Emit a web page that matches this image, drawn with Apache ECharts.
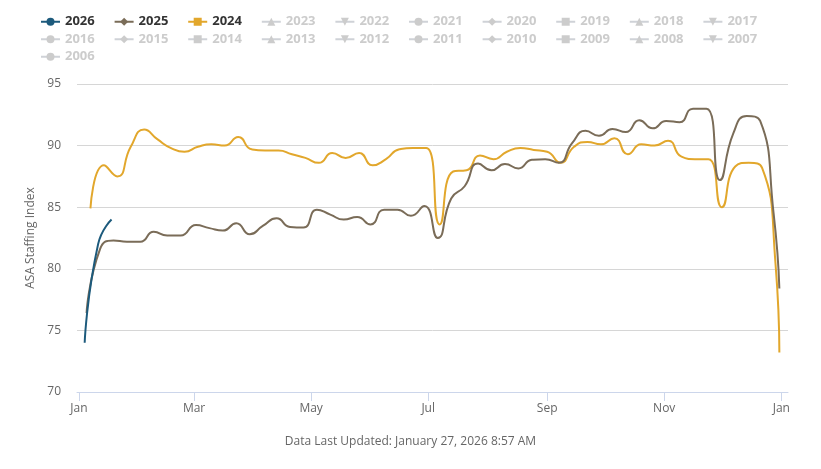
<!DOCTYPE html>
<html><head><meta charset="utf-8">
<script src="https://cdn.jsdelivr.net/npm/echarts@6/dist/echarts.min.js"></script>
<style>html,body{margin:0;padding:0;background:#fff}#c{width:821px;height:469px}</style>
</head><body><div id="c"></div>
<script>
// ---- data ----
const dates2026 = ['2026-01-04','2026-01-11','2026-01-18'];
const values2026 = [74.0, 82.0, 84.0];

const dates2025 = ['2025-01-05','2025-01-12','2025-01-19','2025-01-26','2025-02-02','2025-02-09','2025-02-16','2025-02-23',
  '2025-03-02','2025-03-09','2025-03-16','2025-03-23','2025-03-30','2025-04-06','2025-04-13','2025-04-20','2025-04-27',
  '2025-05-04','2025-05-11','2025-05-18','2025-05-25','2025-06-01','2025-06-08','2025-06-15','2025-06-22','2025-06-29',
  '2025-07-06','2025-07-13','2025-07-20','2025-07-27','2025-08-03','2025-08-10','2025-08-17','2025-08-24','2025-08-31',
  '2025-09-07','2025-09-14','2025-09-21','2025-09-28','2025-10-05','2025-10-12','2025-10-19','2025-10-26',
  '2025-11-02','2025-11-09','2025-11-16','2025-11-23','2025-11-30','2025-12-07','2025-12-14','2025-12-21','2025-12-28','2025-12-31'];
const values2025 = [76.4, 81.6, 82.3, 82.2, 82.2, 83.0, 82.7, 82.7,
  83.55, 83.3, 83.1, 83.7, 82.8, 83.5, 84.1, 83.4, 83.35, 84.8,
  84.4, 84.0, 84.2, 83.6, 84.8, 84.8, 84.3, 85.1, 82.5, 85.7,
  86.7, 88.55, 88.0, 88.5, 88.15, 88.85, 88.9, 88.6, 90.2, 91.2,
  90.8, 91.35, 91.1, 92.05, 91.4, 92.0, 91.9, 93.0, 93.0, 87.2,
  91.0, 92.4, 92.0, 84.5, 78.4];

const dates2024 = ['2024-01-07','2024-01-14','2024-01-21','2024-01-28','2024-02-04','2024-02-11','2024-02-18','2024-02-25',
  '2024-03-03','2024-03-10','2024-03-17','2024-03-24','2024-03-31','2024-04-07','2024-04-14','2024-04-21','2024-04-28',
  '2024-05-05','2024-05-12','2024-05-19','2024-05-26','2024-06-02','2024-06-09','2024-06-16','2024-06-23','2024-06-30',
  '2024-07-07','2024-07-14','2024-07-21','2024-07-28','2024-08-04','2024-08-11','2024-08-18','2024-08-25',
  '2024-09-01','2024-09-08','2024-09-15','2024-09-22','2024-09-29','2024-10-06','2024-10-13','2024-10-20','2024-10-27',
  '2024-11-03','2024-11-10','2024-11-17','2024-11-24','2024-12-01','2024-12-08','2024-12-15','2024-12-22','2024-12-29','2024-12-31'];
const values2024 = [84.9, 88.4, 87.5, 89.9, 91.3, 90.5, 89.8, 89.5, 89.9, 90.1,
  90.0, 90.7, 89.7, 89.6, 89.6, 89.3, 89.0, 88.6, 89.4, 89.0,
  89.4, 88.4, 88.9, 89.7, 89.8, 89.8, 83.6, 87.9, 88.0, 89.2,
  88.9, 89.5, 89.8, 89.65, 89.5, 88.6, 89.9, 90.3, 90.1, 90.6,
  89.3, 90.1, 90.0, 90.4, 89.1, 88.9, 88.9, 85.0, 88.3, 88.6,
  88.2, 80.4, 73.2];

const legendNames = ['2026','2025','2024','2023','2022','2021','2020','2019','2018','2017',
  '2016','2015','2014','2013','2012','2011','2010','2009','2008','2007','2006'];
const tickDates = ['01-01','03-01','05-01','07-01','09-01','11-01','12-31+'];
const tickLabels = ['Jan','Mar','May','Jul','Sep','Nov','Jan'];
const yTicks = [70, 75, 80, 85, 90, 95];
const footerText = 'Data Last Updated: January 27, 2026 8:57 AM';

// ---- helpers ----
const BASE = 2000; // common leap base year
function dayOf(s) {
  const p = s.split('-');
  const m = +p[p.length - 2], d = +p[p.length - 1];
  return (Date.UTC(BASE, m - 1, d) - Date.UTC(BASE, 0, 1)) / 864e5;
}
const tickDays = tickDates.map(t => t === '12-31+' ? 366 : dayOf(t));
function pairs(ds, vs) { return ds.map((d, i) => [dayOf(d), vs[i]]); }

const triDown = 'path://M0,0 L10,0 L5,10 Z';
const symbols = ['circle', 'diamond', 'rect', 'triangle', triDown];
const activeColors = { '2026': '#1c5a7c', '2025': '#7a6c58', '2024': '#e2a72c' };
const activeData = { '2026': pairs(dates2026, values2026), '2025': pairs(dates2025, values2025), '2024': pairs(dates2024, values2024) };

const selected = {};
const series = legendNames.map((name, i) => {
  selected[name] = !!activeData[name];
  return {
    name, type: 'line', smooth: 0.55, showSymbol: false,
    symbol: symbols[i % 5], symbolSize: 8,
    color: activeColors[name] || '#999',
    lineStyle: { width: 2 },
    z: 10 - (i < 3 ? i : 3),
    data: activeData[name] || [],
    emphasis: { disabled: true }, silent: true
  };
});

const chart = echarts.init(document.getElementById('c'));
chart.setOption({
  animation: false,
  backgroundColor: '#ffffff',
  textStyle: { fontFamily: '"Open Sans", sans-serif' },
  legend: {
    left: 35, top: 10, width: 770,
    itemWidth: 19, itemHeight: 10, itemGap: 4,
    inactiveColor: '#cccccc',
    selectedMode: true,
    textStyle: { fontFamily: '"Open Sans", sans-serif', fontSize: 13, fontWeight: 'bold', color: '#333333', width: 44.6, lineHeight: 13.5 },
    data: legendNames, selected
  },
  grid: { left: 77, right: 33, top: 84, bottom: 77, containLabel: false },
  xAxis: {
    type: 'value', min: -1, max: 369.5,
    axisLine: { show: true, lineStyle: { color: '#ccd6eb', width: 1 } },
    axisTick: { show: true, customValues: tickDays, length: 9, lineStyle: { color: '#ccd6eb' } },
    axisLabel: { customValues: tickDays, color: '#666666', fontSize: 12, margin: 11,
      formatter: v => tickLabels[tickDays.indexOf(v)] || '' },
    splitLine: { show: false }
  },
  yAxis: {
    type: 'value', min: yTicks[0], max: yTicks[yTicks.length - 1], interval: 5,
    name: 'ASA Staffing Index', nameLocation: 'middle', nameGap: 38,
    nameTextStyle: { color: '#666666', fontSize: 12 },
    axisLine: { show: false }, axisTick: { show: false },
    axisLabel: { color: '#666666', fontSize: 12, margin: 16 },
    splitLine: { lineStyle: { color: '#d6d6d6', width: 1 } }
  },
  graphic: [{
    type: 'text', left: 'center', top: 436,
    style: { text: footerText, fill: '#666666', font: '12px "Open Sans", sans-serif' }
  }],
  series
});
</script>
</body></html>
